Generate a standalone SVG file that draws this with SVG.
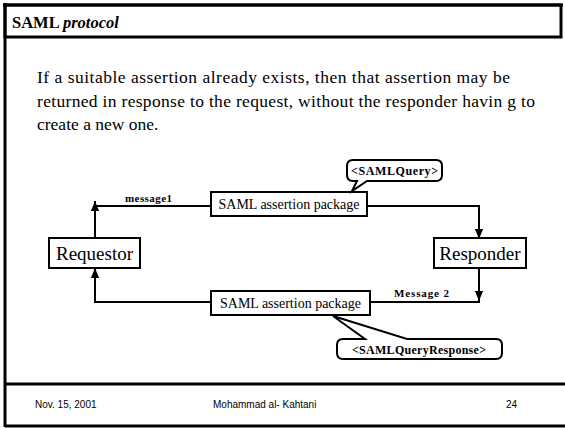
<svg xmlns="http://www.w3.org/2000/svg" width="565" height="428" viewBox="0 0 565 428">
  <defs>
    <marker id="arrow" markerUnits="userSpaceOnUse" markerWidth="10" markerHeight="12" refX="11" refY="4.5" orient="auto" viewBox="0 0 11 9">
      <path d="M0,0 L11,4.5 L0,9 Z" fill="#000"/>
    </marker>
    <style>
      .frame { fill: none; stroke: #000; stroke-width: 3; }
      .box { fill: #fff; stroke: #000; stroke-width: 2; }
      .conn { fill: none; stroke: #000; stroke-width: 2; }
      .serif { font-family: "Liberation Serif", "Times New Roman", serif; fill: #000; }
      .sans { font-family: "Liberation Sans", Arial, sans-serif; fill: #000; font-size: 10px; }
      .body { font-size: 17.5px; }
      .label { font-size: 11px; font-weight: bold; }
      .tag { font-size: 12px; font-weight: bold; }
      .pkg { font-size: 14px; }
      .party { font-size: 19px; }
    </style>
  </defs>

  <!-- slide frame -->
  <g id="frame">
    <line class="frame" x1="3" y1="5" x2="563" y2="5"/>
    <line class="frame" x1="5" y1="3" x2="5" y2="427"/>
    <rect class="frame" x="5" y="5" width="556" height="32"/>
    <line class="frame" x1="5" y1="384" x2="565" y2="384"/>
    <line class="frame" x1="5" y1="426" x2="565" y2="426"/>
  </g>

  <!-- title -->
  <g id="title">
    <text class="serif" x="12" y="28" font-size="16.5" font-weight="bold">SAML <tspan font-style="italic">protocol</tspan></text>
  </g>

  <!-- body text -->
  <g id="body">
    <text class="serif body" x="37" y="83" textLength="473" lengthAdjust="spacing">If a suitable assertion already exists, then that assertion may be</text>
    <text class="serif body" x="37" y="107" textLength="498" lengthAdjust="spacing">returned in response to the request, without the responder havin g to</text>
    <text class="serif body" x="37" y="130">create a new one.</text>
  </g>

  <!-- connectors -->
  <g id="connectors">
    <line class="conn" x1="95" y1="238" x2="95" y2="201" marker-end="url(#arrow)"/>
    <line class="conn" x1="94" y1="206" x2="211" y2="206"/>
    <path class="conn" d="M367,206 H479 V239" marker-end="url(#arrow)"/>
    <line class="conn" x1="479" y1="268" x2="479" y2="301" marker-end="url(#arrow)"/>
    <line class="conn" x1="370" y1="302" x2="480" y2="302"/>
    <path class="conn" d="M211,302 H95 V268" marker-end="url(#arrow)"/>
    <text class="serif label" x="125" y="202" textLength="47" lengthAdjust="spacing">message1</text>
    <text class="serif label" x="394" y="297" textLength="55" lengthAdjust="spacing">Message 2</text>
  </g>

  <!-- nodes -->
  <g id="requestor">
    <rect class="box" x="49" y="238" width="91" height="30"/>
    <text class="serif party" x="94.5" y="260" text-anchor="middle">Requestor</text>
  </g>
  <g id="responder">
    <rect class="box" x="434" y="238" width="92" height="30"/>
    <text class="serif party" x="480" y="260" text-anchor="middle">Responder</text>
  </g>
  <g id="package-request">
    <rect class="box" x="211" y="192" width="156" height="24"/>
    <text class="serif pkg" x="289" y="209" text-anchor="middle">SAML assertion package</text>
  </g>
  <g id="package-response">
    <rect class="box" x="211" y="291" width="159" height="24"/>
    <text class="serif pkg" x="290.5" y="308" text-anchor="middle">SAML assertion package</text>
  </g>
  <g id="callout-query">
    <path class="box" d="M353,160 L436,160 Q442,160 442,166 L442,175 Q442,181 436,181 L367,181 L352,191 L357,181 L353,181 Q347,181 347,175 L347,166 Q347,160 353,160 Z"/>
    <text class="serif tag" x="351" y="175" textLength="87" lengthAdjust="spacing">&lt;SAMLQuery&gt;</text>
  </g>
  <g id="callout-response">
    <path class="box" d="M343,339 L365,339 L333,316 L407,339 L496,339 Q502,339 502,345 L502,353 Q502,359 496,359 L343,359 Q337,359 337,353 L337,345 Q337,339 343,339 Z"/>
    <text class="serif tag" x="352" y="354" textLength="134" lengthAdjust="spacing">&lt;SAMLQueryResponse&gt;</text>
  </g>

  <!-- footer -->
  <g id="footer">
    <text class="sans" x="35" y="408">Nov. 15, 2001</text>
    <text class="sans" x="213" y="408">Mohammad al- Kahtani</text>
    <text class="sans" x="506" y="408">24</text>
  </g>
</svg>
